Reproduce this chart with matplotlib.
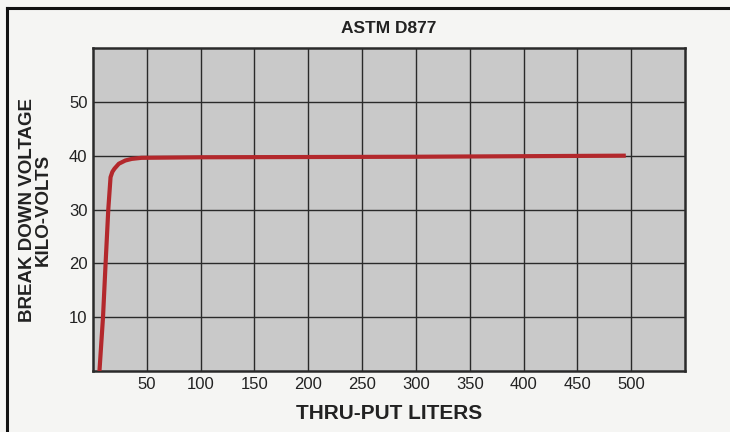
import numpy as np
import matplotlib.pyplot as plt

# data
liters = [6, 9.3, 11.7, 14.2, 16.3, 18, 20, 24, 30, 36, 45, 100, 300, 495]
kilovolts = [0, 10, 20, 30, 36, 37.0, 37.6, 38.5, 39.1, 39.4, 39.6, 39.7, 39.8, 40.0]
x_ticks = [50, 100, 150, 200, 250, 300, 350, 400, 450, 500]
y_ticks = [10, 20, 30, 40, 50]

plt.rcParams['font.family'] = ['Liberation Sans', 'DejaVu Sans']

fig = plt.figure(figsize=(7.3, 4.32), dpi=100)
fig.patch.set_facecolor('#f5f5f3')
ax = fig.add_axes([93/730, 61/432, 592/730, 323/432])
ax.set_facecolor('#c9c9c9')

ax.plot(liters, kilovolts, color='#b3282c', lw=3, solid_capstyle='butt', zorder=3)

ax.set_xlim(0, 550)
ax.set_ylim(0, 60)
ax.set_xticks(x_ticks)
ax.set_yticks(y_ticks)
ax.tick_params(length=0, labelsize=12, colors='#222222', pad=4)
ax.grid(True, color='#2a2a2a', lw=1)
for s in ax.spines.values():
    s.set_linewidth(1.8)
    s.set_color('#2a2a2a')

ax.set_xlabel('THRU-PUT LITERS', fontsize=15, fontweight='bold', color='#222222', labelpad=9)
ax.set_ylabel('BREAK DOWN VOLTAGE\nKILO-VOLTS', fontsize=13.5, fontweight='bold',
              color='#222222', labelpad=12, linespacing=0.95)
ax.set_title('ASTM D877', fontsize=12.5, fontweight='bold', color='#222222', pad=11)

# outer frame of the scanned figure
fig.add_artist(plt.Line2D([7/730, 7/730], [0, 1 - 8/432], color='#111111', lw=2.2))
fig.add_artist(plt.Line2D([7/730, 1], [1 - 8/432, 1 - 8/432], color='#111111', lw=2.2))

fig.savefig('out.png', dpi=100, facecolor=fig.get_facecolor())
